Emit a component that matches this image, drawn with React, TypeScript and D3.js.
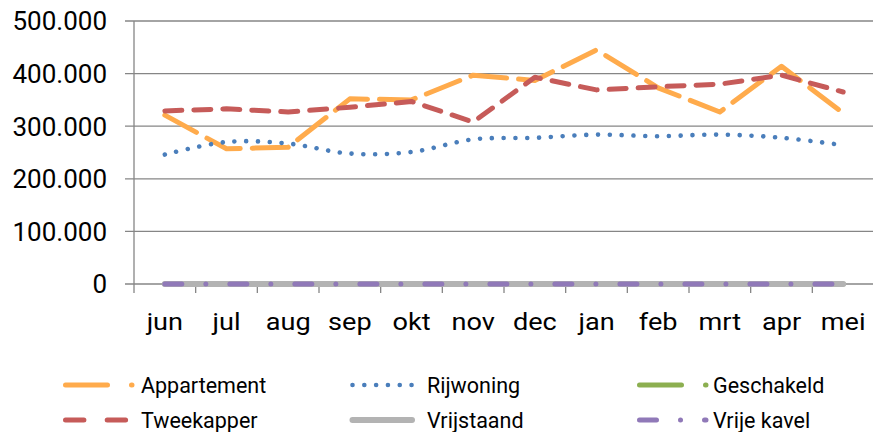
import React from "react";
import * as d3 from "d3";

// DATA
const months = ["jun", "jul", "aug", "sep", "okt", "nov", "dec", "jan", "feb", "mrt", "apr", "mei"];
const appartement = [321000, 257000, 260000, 352000, 350000, 397000, 387000, 445000, 373000, 327000, 414000, 325000];
const rijwoning = [246000, 270000, 267000, 248000, 251000, 275000, 278000, 284000, 281000, 284000, 278000, 264000];
const geschakeld = [0, 0, 0, 0, 0, 0, 0, 0, 0, 0, 0, 0];
const tweekapper = [329000, 333000, 327000, 336000, 347000, 308000, 393000, 369000, 375000, 380000, 397000, 365000];
const vrijstaand = [0, 0, 0, 0, 0, 0, 0, 0, 0, 0, 0, 0];
const vrijeKavel = [0, 0, 0, 0, 0, 0, 0, 0, 0, 0, 0, 0];
const yTicks = [0, 100000, 200000, 300000, 400000, 500000];

const series = [
  { name: "Appartement", values: appartement, color: "#FFAB4C", width: 5, dash: "36,12", legendDash: "42,24", smooth: false },
  { name: "Rijwoning", values: rijwoning, color: "#4A7EBB", width: 4.6, dash: "0.01,11.8", legendDash: "0.01,11.8", smooth: true },
  { name: "Geschakeld", values: geschakeld, color: "#8CAF50", width: 5, dash: "36,12", legendDash: "42,24", smooth: false },
  { name: "Tweekapper", values: tweekapper, color: "#C65B59", width: 5, dash: "17,12", legendDash: "18.4,23.3", smooth: false },
  { name: "Vrijstaand", values: vrijstaand, color: "#B3B3B3", width: 6, dash: null, legendDash: null, smooth: false },
  { name: "Vrije kavel", values: vrijeKavel, color: "#9079B8", width: 5, dash: "17,24,0.01,24", legendDash: "17,24,0.01,24", smooth: false },
];

const fmt = d3.formatLocale({ decimal: ",", thousands: ".", grouping: [3], currency: ["€", ""] }).format(",");

export default function App() {
  const W = 873;
  const H = 432;
  const left = 134;
  const right = 874;
  const top = 21;
  const bottom = 284;

  const x = d3.scaleBand().domain(months).range([left, right]);
  const y = d3.scaleLinear().domain([0, 500000]).range([bottom, top]);
  const cx = (m: string) => (x(m) as number) + x.bandwidth() / 2;

  const font = "Roboto, sans-serif";

  // legend layout: columns and rows
  const legendCols = [63, 350, 637];
  const legendText = [141, 427, 713];
  const legendRows = [385, 420];
  const sampleLen = [69, 62, 69];

  return (
    <svg width={W} height={H} style={{ position: "absolute", left: 0, top: 0 }}>
      <rect width={W} height={H} fill="#fff" />
      {/* GRID */}
      {yTicks.map((t) => (
        <g key={t}>
          <line x1={left - 9} x2={W} y1={y(t)} y2={y(t)} stroke="#868686" strokeWidth={1.3} />
          <text x={107} y={y(t)} dy="0.36em" textAnchor="end" fontFamily={font} fontSize={26} fill="#000">
            {fmt(t)}
          </text>
        </g>
      ))}
      {/* Y AXIS */}
      <line x1={left} x2={left} y1={top} y2={bottom + 9} stroke="#868686" strokeWidth={1.3} />
      {/* X TICKS */}
      {months.map((m, i) => (
        <g key={m}>
          {i > 0 && (
            <line x1={x(m)} x2={x(m)} y1={bottom} y2={bottom + 9} stroke="#868686" strokeWidth={1.3} />
          )}
          <text
            transform={`translate(${cx(m)},330) scale(1.13,1)`}
            textAnchor="middle"
            fontFamily={font}
            fontSize={24}
            fill="#000"
          >
            {m}
          </text>
        </g>
      ))}
      {/* LINES */}
      {series.map((s) => {
        const line = d3
          .line<number>()
          .x((_, i) => cx(months[i]))
          .y((d) => y(d))
          .curve(s.smooth ? d3.curveCatmullRom : d3.curveLinear);
        return (
          <path
            key={s.name}
            d={line(s.values) || ""}
            fill="none"
            stroke={s.color}
            strokeWidth={s.width}
            strokeLinecap="round"
            strokeLinejoin="round"
            strokeDasharray={s.dash || undefined}
          />
        );
      })}
      {/* LEGEND */}
      {series.map((s, i) => {
        const col = i % 3;
        const row = Math.floor(i / 3);
        const ly = legendRows[row];
        const x0 = legendCols[col] + 2.5;
        const x1 = legendCols[col] + sampleLen[col];
        return (
          <g key={s.name}>
            <line
              x1={x0}
              x2={x1}
              y1={ly}
              y2={ly}
              stroke={s.color}
              strokeWidth={s.width}
              strokeLinecap="round"
              strokeDasharray={s.legendDash || undefined}
            />
            <text x={legendText[col]} y={ly} dy="0.36em" fontFamily={font} fontSize={21.5} fill="#000">
              {s.name}
            </text>
          </g>
        );
      })}
    </svg>
  );
}
